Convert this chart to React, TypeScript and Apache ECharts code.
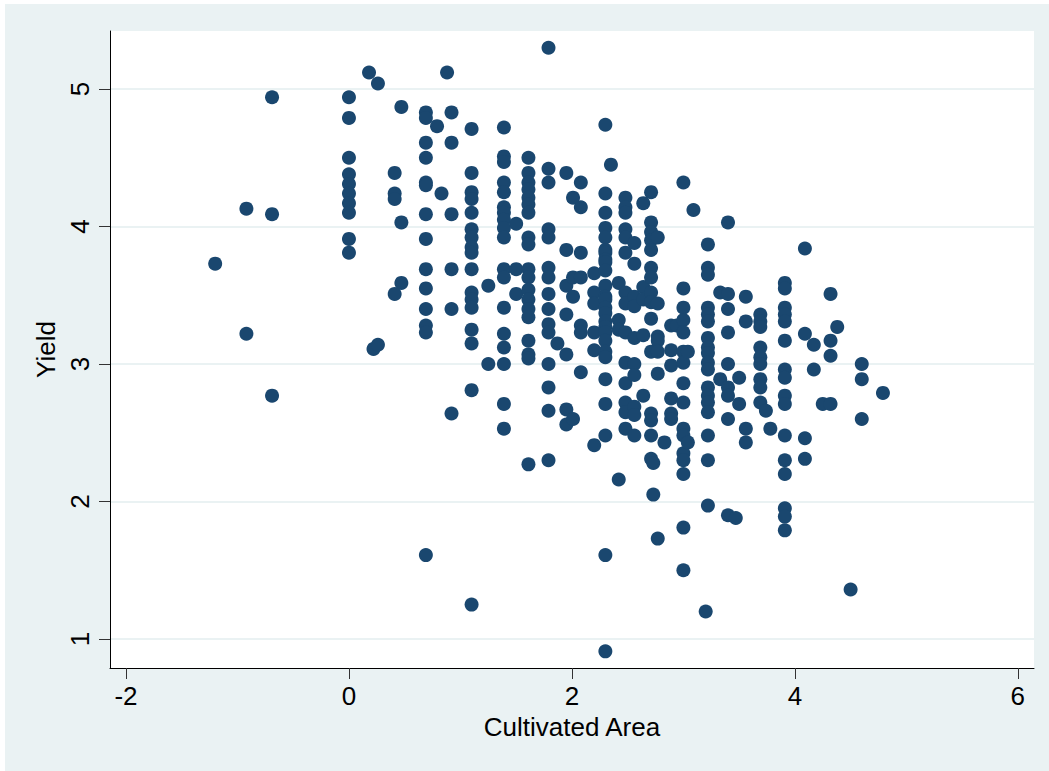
import React, { useEffect, useRef } from "react";
import * as echarts from "echarts";

const xTickValues = [-2, 0, 2, 4, 6];
const yTickValues = [1, 2, 3, 4, 5];

// log cultivated area (column positions)
const areaColumns = [
  -1.2, -0.92, -0.69, 0, 0.18, 0.22, 0.26, 0.41, 0.47, 0.69, 0.79, 0.83, 0.88, 0.92,
  1.1, 1.25, 1.39, 1.5, 1.61, 1.79, 1.87, 1.95, 2.01, 2.08, 2.2, 2.3, 2.35, 2.42, 2.48,
  2.56, 2.64, 2.71, 2.73, 2.77, 2.83, 2.89, 2.94, 3.0, 3.04, 3.09, 3.2, 3.22, 3.33, 3.4,
  3.47, 3.5, 3.56, 3.69, 3.74, 3.78, 3.91, 4.09, 4.17, 4.25, 4.32, 4.38, 4.5, 4.6, 4.79,
];

// log yield values for each area column
const yieldColumns = [
  [3.73],
  [4.13, 3.22],
  [4.94, 4.09, 2.77],
  [4.94, 4.79, 4.5, 4.38, 4.31, 4.24, 4.17, 4.1, 3.91, 3.81],
  [5.12],
  [3.11],
  [5.04, 3.14],
  [4.39, 4.24, 4.2, 3.51],
  [4.87, 4.03, 3.59],
  [4.83, 4.79, 4.61, 4.5, 4.32, 4.3, 4.09, 3.91, 3.69, 3.55, 3.4, 3.28, 3.23, 1.61],
  [4.73],
  [4.24],
  [5.12],
  [4.83, 4.61, 4.09, 3.69, 3.4, 2.64],
  [4.71, 4.39, 4.25, 4.2, 4.1, 3.98, 3.92, 3.85, 3.81, 3.69, 3.52, 3.47, 3.41, 3.25, 3.15, 2.81, 1.25],
  [3.57, 3.0],
  [4.72, 4.51, 4.47, 4.32, 4.25, 4.14, 4.1, 4.05, 3.99, 3.92, 3.69, 3.63, 3.41, 3.22, 3.12, 3.0, 2.71, 2.53],
  [4.02, 3.69, 3.51],
  [4.5, 4.39, 4.32, 4.27, 4.21, 4.16, 4.1, 3.92, 3.87, 3.69, 3.63, 3.54, 3.47, 3.4, 3.34, 3.17, 3.07, 3.04, 2.27],
  [5.3, 4.42, 4.32, 3.98, 3.92, 3.7, 3.63, 3.51, 3.4, 3.29, 3.23, 3.0, 2.83, 2.66, 2.3],
  [3.15],
  [4.39, 3.83, 3.57, 3.36, 3.07, 2.67, 2.56],
  [4.21, 3.63, 3.49, 2.6],
  [4.32, 4.14, 3.81, 3.63, 3.28, 3.23, 2.94],
  [3.66, 3.52, 3.44, 3.23, 3.1, 2.41],
  [4.74, 4.24, 4.1, 3.99, 3.92, 3.83, 3.81, 3.76, 3.74, 3.68, 3.57, 3.49, 3.47, 3.41, 3.37, 3.31, 3.27, 3.23, 3.17, 3.09, 3.05, 2.89, 2.71, 2.48, 1.61, 0.91],
  [4.45],
  [3.59, 3.32, 3.25, 2.16],
  [4.21, 4.14, 4.1, 3.98, 3.92, 3.81, 3.52, 3.44, 3.23, 3.01, 2.86, 2.72, 2.65, 2.53],
  [3.88, 3.73, 3.49, 3.42, 3.19, 3.0, 2.92, 2.69, 2.63, 2.48],
  [4.17, 3.56, 3.47, 3.21, 2.77],
  [4.25, 4.03, 3.96, 3.9, 3.83, 3.7, 3.63, 3.52, 3.45, 3.33, 3.09, 2.64, 2.59, 2.48, 2.31],
  [2.28, 2.05],
  [3.92, 3.44, 3.2, 3.17, 3.09, 2.93, 1.73],
  [2.43],
  [3.28, 3.1, 2.99, 2.75, 2.64, 2.6],
  [3.28],
  [4.32, 3.55, 3.41, 3.32, 3.23, 3.09, 3.01, 2.86, 2.72, 2.53, 2.48, 2.35, 2.3, 2.2, 1.81, 1.5],
  [3.09, 2.43],
  [4.12],
  [1.2],
  [3.87, 3.7, 3.65, 3.41, 3.36, 3.31, 3.19, 3.12, 3.08, 3.01, 2.96, 2.83, 2.77, 2.72, 2.65, 2.48, 2.3, 1.97],
  [3.52, 2.89],
  [4.03, 3.51, 3.4, 3.23, 3.0, 2.83, 2.77, 2.6, 1.9],
  [1.88],
  [2.9, 2.71],
  [3.49, 3.31, 2.53, 2.43],
  [3.36, 3.31, 3.27, 3.12, 3.05, 3.0, 2.89, 2.83, 2.72],
  [2.66],
  [2.53],
  [3.59, 3.55, 3.41, 3.36, 3.31, 3.17, 2.96, 2.9, 2.77, 2.71, 2.48, 2.3, 2.2, 1.95, 1.89, 1.79],
  [3.84, 3.22, 2.46, 2.31],
  [3.14, 2.96],
  [2.71],
  [3.51, 3.17, 3.06, 2.71],
  [3.27],
  [1.36],
  [3.0, 2.89, 2.6],
  [2.79],
];

export default function App() {
  const ref = useRef<HTMLDivElement>(null);
  useEffect(() => {
    if (!ref.current) return;
    const chart = echarts.init(ref.current, null, { renderer: "svg" });
    const data: number[][] = [];
    areaColumns.forEach((x, i) => {
      (yieldColumns[i] || []).forEach((y) => data.push([x, y]));
    });
    chart.setOption({
      animation: false,
      backgroundColor: "#ffffff",
      textStyle: { fontFamily: "Liberation Sans, Arial, sans-serif" },
      graphic: [
        {
          type: "rect",
          z: -100,
          silent: true,
          shape: { x: 5, y: 4, width: 1044, height: 767 },
          style: { fill: "#eaf2f3" },
        },
      ],
      grid: {
        left: 110,
        right: 15,
        top: 31,
        bottom: 103,
        show: true,
        backgroundColor: "#ffffff",
        borderWidth: 0,
        containLabel: false,
      },
      xAxis: {
        type: "value",
        min: -2.1435,
        max: 6.145,
        name: "Cultivated Area",
        nameLocation: "middle",
        nameGap: 40,
        nameTextStyle: { fontSize: 26, color: "#000" },
        axisLine: { show: true, onZero: false, lineStyle: { color: "#000", width: 1 } },
        axisTick: { show: true, length: 11, customValues: xTickValues, lineStyle: { color: "#333", width: 1 } },
        axisLabel: { customValues: xTickValues, fontSize: 26, color: "#000", margin: 15 },
        splitLine: { show: false },
      },
      yAxis: {
        type: "value",
        min: 0.789,
        max: 5.422,
        name: "Yield",
        nameLocation: "middle",
        nameGap: 45,
        nameTextStyle: { fontSize: 26, color: "#000" },
        axisLine: { show: true, onZero: false, lineStyle: { color: "#000", width: 1 } },
        axisTick: { show: true, length: 11, customValues: yTickValues, lineStyle: { color: "#333", width: 1 } },
        axisLabel: { customValues: yTickValues, fontSize: 26, color: "#000", margin: 17, rotate: 90 },
        splitLine: { show: true, lineStyle: { color: "#eaf2f3", width: 2 } },
      },
      series: [
        {
          type: "scatter",
          data,
          symbol: "circle",
          symbolSize: 14,
          itemStyle: { color: "#1a476f", opacity: 1 },
        },
      ],
    });
    return () => chart.dispose();
  }, []);
  return (
    <div
      ref={ref}
      style={{ position: "absolute", left: 0, top: 0, width: 1049, height: 771 }}
    />
  );
}
